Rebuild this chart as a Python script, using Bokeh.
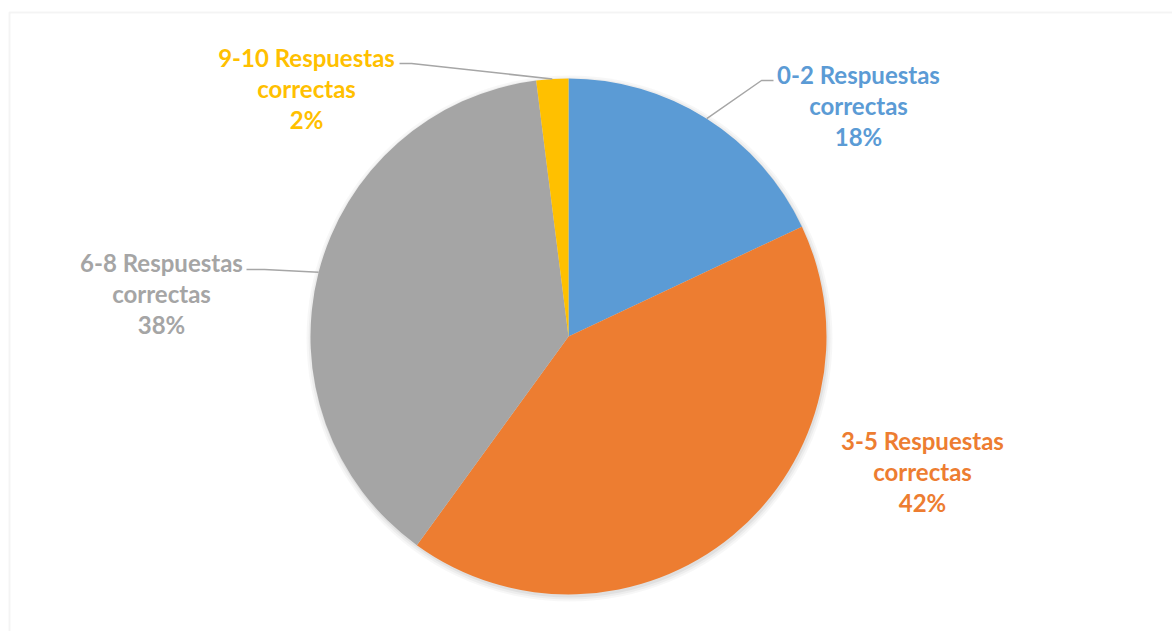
import math
from bokeh.plotting import figure
from bokeh.models import Range1d, BoxAnnotation, ColumnDataSource
from bokeh.core.properties import value
from bokeh.embed import file_html
from bokeh.resources import INLINE

# ---- data ----
categories = ["0-2 Respuestas correctas", "3-5 Respuestas correctas",
              "6-8 Respuestas correctas", "9-10 Respuestas correctas"]
label_first = ["0-2 Respuestas", "3-5 Respuestas", "6-8 Respuestas", "9-10 Respuestas"]
percents = [18, 42, 38, 2]
colors = ["#5B9BD5", "#ED7D31", "#A5A5A5", "#FFC000"]

# ---- layout (canvas pixel space) ----
W, H = 1172, 631
def X(sx):
    return sx
def Y(sy):
    return H - sy

cx, cy, R = X(568), Y(336), 258

p = figure(width=W, height=H, output_backend="svg", toolbar_location=None,
           x_range=Range1d(0, W), y_range=Range1d(0, H), min_border=0)
p.axis.visible = False
p.grid.visible = False
p.outline_line_color = None
p.background_fill_color = "white"
p.border_fill_color = "white"

# chart border
p.add_layout(BoxAnnotation(left=X(9), top=Y(12), right=W + 20, bottom=-20,
                           fill_alpha=0, line_color="#d9d9d9", line_width=2))

total = sum(percents)
starts, ends, mids = [], [], []
cum = 0
for v in percents:
    a0 = math.pi / 2 - 2 * math.pi * cum / total
    cum += v
    a1 = math.pi / 2 - 2 * math.pi * cum / total
    starts.append(a0)
    ends.append(a1)
    mids.append((a0 + a1) / 2)

# soft shadow
for i, a in enumerate([0.05, 0.04, 0.03]):
    p.circle(x=[cx + 1], y=[cy - 2], radius=R + 1 + 2 * i, fill_color="black",
             fill_alpha=a, line_color=None)

src = ColumnDataSource(dict(start=starts, end=ends, color=colors, cat=categories))
p.wedge(x=cx, y=cy, radius=R, start_angle="start", end_angle="end",
        direction="clock", fill_color="color", line_color=None, source=src)

# labels: center x, first line y (screen), leader line elbow (screen) or None
label_pos = [(858, 74, (773, 80)), (922, 440, None), (161, 262, (246, 269)), (306, 57, (399, 63))]
elbow_len = [12, 0, 18, 12]
line_gap = 31
fs = "24px"

for i, (lx, ly, elbow) in enumerate(label_pos):
    texts = [label_first[i], "correctas", f"{percents[i]}%"]
    ys = [Y(ly + k * line_gap) for k in range(3)]
    p.text(x=[X(lx)] * 3, y=ys, text=texts, text_align="center",
           text_baseline="middle", text_font=value("Lato"), text_font_style="bold",
           text_font_size=fs, text_color=colors[i])
    if elbow is not None:
        ex, ey = X(elbow[0]), Y(elbow[1])
        px = cx + R * math.cos(mids[i])
        py = cy + R * math.sin(mids[i])
        d = 1 if px > ex else -1
        p.line(x=[ex, ex + d * elbow_len[i], px], y=[ey, ey, py],
               line_color="#A6A6A6", line_width=1.5)

open("out.html", "w").write(file_html(p, INLINE))
